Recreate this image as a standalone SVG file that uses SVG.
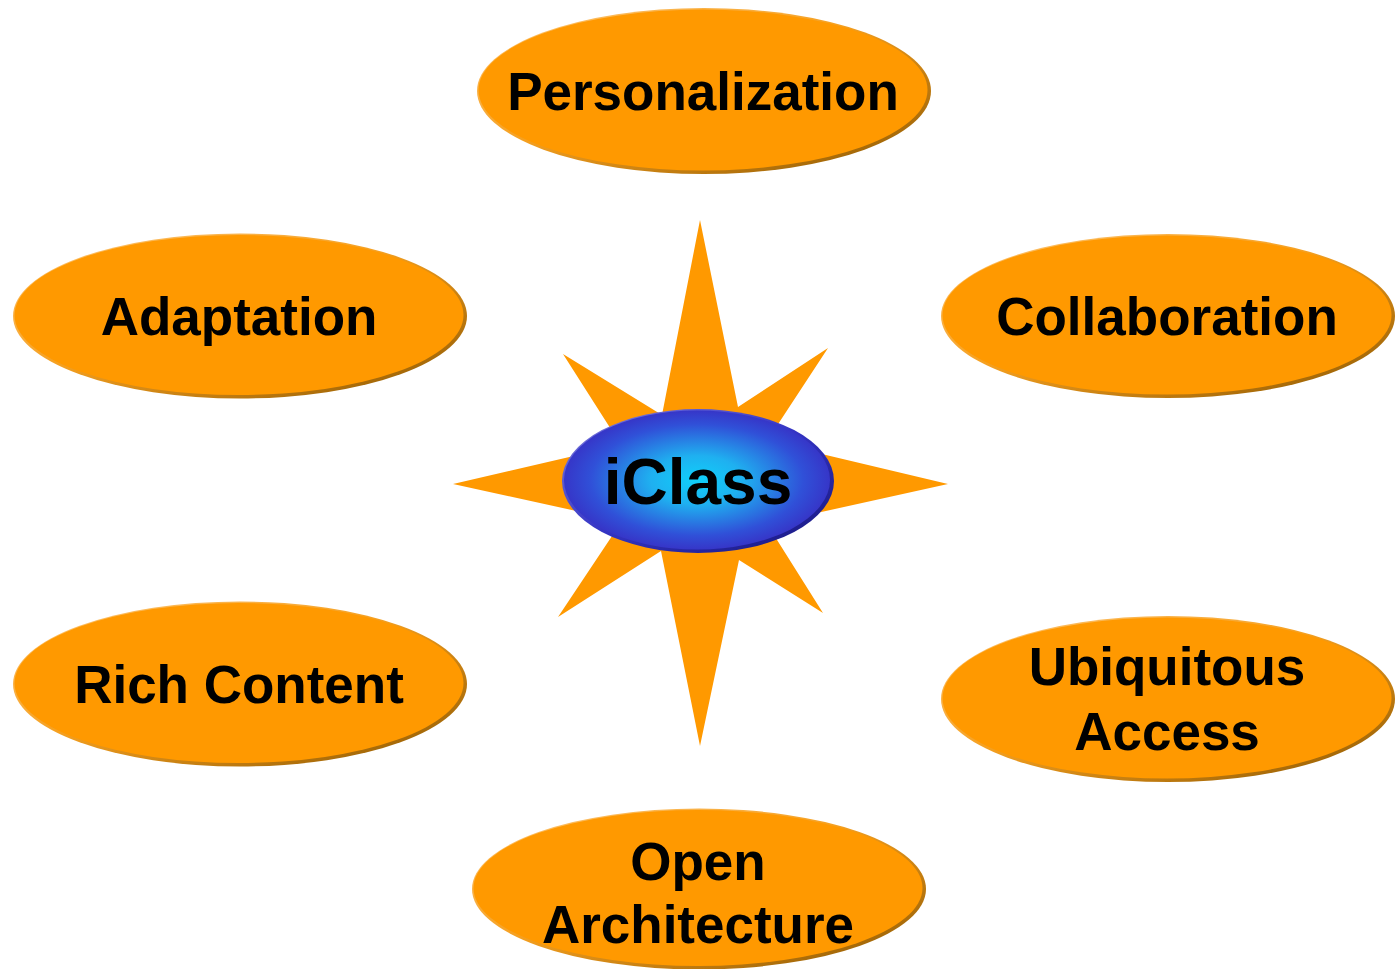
<svg xmlns="http://www.w3.org/2000/svg" width="1397" height="969" viewBox="0 0 1397 969">
  <defs>
    <linearGradient id="rimO" x1="0" y1="0" x2="1" y2="1">
      <stop offset="0" stop-color="#ffc878"/>
      <stop offset="0.45" stop-color="#f5a020"/>
      <stop offset="1" stop-color="#8a5600"/>
    </linearGradient>
    <linearGradient id="rimB" x1="0" y1="0" x2="1" y2="1">
      <stop offset="0" stop-color="#8080e0"/>
      <stop offset="0.5" stop-color="#3434c4"/>
      <stop offset="1" stop-color="#16167a"/>
    </linearGradient>
    <radialGradient id="blueFill" cx="0.5" cy="0.5" r="0.5">
      <stop offset="0" stop-color="#0fd0fa"/>
      <stop offset="0.35" stop-color="#1fb0f0"/>
      <stop offset="0.8" stop-color="#3050d8"/>
      <stop offset="1" stop-color="#3636c8"/>
    </radialGradient>
  </defs>
  <style>
    .rim { fill: url(#rimO); }
    .body { fill: #ff9900; }
    .lbl { font-family: "Liberation Sans", Arial, sans-serif; font-weight: bold; font-size: 53px; fill: #000; text-anchor: middle; }
    .star { fill: #ff9900; }
  </style>
  <rect width="1397" height="969" fill="#ffffff"/>

  <g id="connectors"></g>

  <g id="star">
    <polygon class="star" points="700,220 738,407 828,348 767,441 948,484 767,524 823,613 739,560 700,746 661,551 558,617 622,521 453,484 621,445 563,354 662,415"/>
  </g>

  <g id="iclass">
    <ellipse cx="698" cy="481" rx="136" ry="72" fill="url(#rimB)"/>
    <ellipse cx="697" cy="480" rx="133" ry="69.5" fill="url(#blueFill)"/>
    <text class="lbl" x="698" y="504" style="font-size:64px">iClass</text>
  </g>

  <g id="personalization">
    <ellipse class="rim" cx="704" cy="91" rx="227" ry="83"/>
    <ellipse class="body" cx="703" cy="90" rx="224.5" ry="80.5"/>
    <text class="lbl" x="703" y="110">Personalization</text>
  </g>

  <g id="adaptation">
    <ellipse class="rim" cx="240" cy="316" rx="227" ry="82.5"/>
    <ellipse class="body" cx="239" cy="315" rx="224.5" ry="80"/>
    <text class="lbl" x="239" y="335">Adaptation</text>
  </g>

  <g id="collaboration">
    <ellipse class="rim" cx="1168" cy="316" rx="227" ry="82"/>
    <ellipse class="body" cx="1167" cy="315" rx="224.5" ry="79.5"/>
    <text class="lbl" x="1167" y="335">Collaboration</text>
  </g>

  <g id="rich-content">
    <ellipse class="rim" cx="240" cy="684" rx="227" ry="82.5"/>
    <ellipse class="body" cx="239" cy="683" rx="224.5" ry="80"/>
    <text class="lbl" x="239" y="703">Rich Content</text>
  </g>

  <g id="ubiquitous-access">
    <ellipse class="rim" cx="1168" cy="699" rx="227" ry="83"/>
    <ellipse class="body" cx="1167" cy="698" rx="224.5" ry="80.5"/>
    <text class="lbl" x="1167" y="685">Ubiquitous</text>
    <text class="lbl" x="1167" y="750">Access</text>
  </g>

  <g id="open-architecture">
    <ellipse class="rim" cx="699" cy="889" rx="227" ry="80.5"/>
    <ellipse class="body" cx="698" cy="888" rx="224.5" ry="78"/>
    <text class="lbl" x="698" y="880">Open</text>
    <text class="lbl" x="698" y="943">Architecture</text>
  </g>
</svg>
